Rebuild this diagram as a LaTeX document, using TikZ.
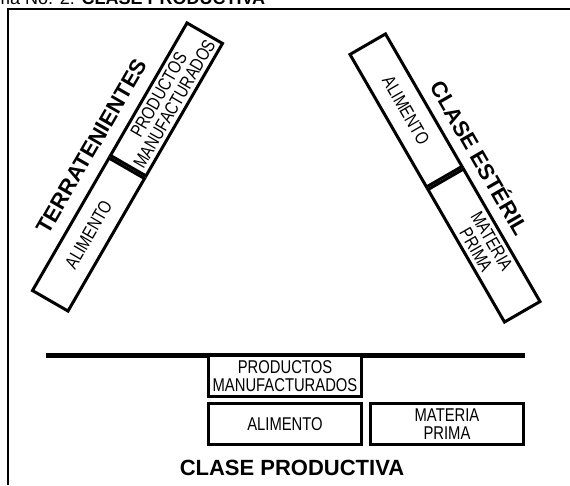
\documentclass[tikz,border=0pt]{standalone}
\usepackage{fontspec}
\setmainfont{Liberation Sans}
\newfontfamily\narrowsf[FakeStretch=0.8]{Liberation Sans}
\usepackage{tikz}
\usetikzlibrary{positioning}

\begin{document}
\begin{tikzpicture}[
    x=1pt, y=1pt,
    cell/.style={rectangle, draw=black, fill=white, line width=3pt, minimum width=153pt, minimum height=41pt, inner sep=0pt, align=center, font=\narrowsf\fontsize{18.5}{18}\selectfont},
    classname/.style={inner sep=0pt, text height=15.8pt, text depth=0pt, font=\bfseries\fontsize{22}{24}\selectfont},
    frame/.style={line width=1.2pt, draw=black},
    bar/.style={line width=5pt, draw=black}
]
    \useasboundingbox (0,0) rectangle (570,485);

    % Frame and caption
    \draw [frame] (8,0) -- (8,476) -- (570,476);
    \node (caption) [anchor=base west, inner sep=0pt, font=\fontsize{18}{20}\selectfont] at (-5,480) {ma No. 2: \textbf{CLASE PRODUCTIVA}};

    % Terratenientes
    \begin{scope}[shift={(127.5,318)}, rotate=60, transform shape]
        \node (tAlim) [cell, anchor=east] at (0,0) {ALIMENTO};
        \node (tManu) [cell, right=0pt of tAlim] {PRODUCTOS\\MANUFACTURADOS};
        \node (tName) [classname] at (0,41.6) {TERRATENIENTES};
    \end{scope}

    % Clase esteril
    \begin{scope}[shift={(445,307)}, rotate=-60, transform shape]
        \node (eAlim) [cell, anchor=east] at (0,0) {ALIMENTO};
        \node (eMate) [cell, right=0pt of eAlim] {MATERIA\\PRIMA};
        \node (eName) [classname] at (0,39.7) {CLASE ESTÉRIL};
    \end{scope}

    % Clase productiva
    \coordinate (barL) at (46,129.5);
    \coordinate (barR) at (525,129.5);
    \draw [bar] (barL) -- (barR);
    \node (pManu) [cell] at (285,109) {PRODUCTOS\\MANUFACTURADOS};
    \node (pAlim) [cell, below=4pt of pManu] {ALIMENTO};
    \node (pMate) [cell, right=6pt of pAlim] {MATERIA\\PRIMA};
    \node (pName) [classname, below=13pt of pAlim, xshift=7pt] {CLASE PRODUCTIVA};
\end{tikzpicture}
\end{document}
